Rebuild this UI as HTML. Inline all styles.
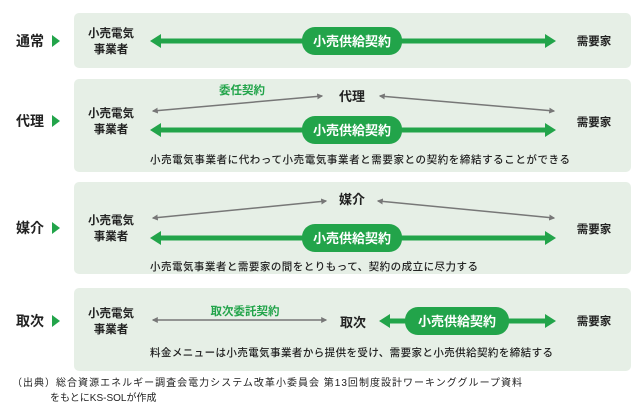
<!DOCTYPE html>
<html><head><meta charset="utf-8"><style>
html,body{margin:0;padding:0;background:#fff;width:640px;height:406px;overflow:hidden}
svg{display:block}
text{font-family:"Liberation Sans","Noto Sans CJK JP",sans-serif;fill:#222}
.g{fill:#22a44a}
.w{fill:#fff}
</style></head><body>
<svg width="640" height="406" viewBox="0 0 640 406" xmlns="http://www.w3.org/2000/svg">
<defs>
<marker id="ga" viewBox="0 0 10 10" refX="8" refY="5" markerWidth="4" markerHeight="4" orient="auto-start-reverse"><path d="M0,0 L10,5 L0,10 z" fill="#777"/></marker>
</defs>
<g fill="#e6efe6">
<rect x="74" y="13" width="557" height="55" rx="5"/>
<rect x="74" y="79" width="557" height="93" rx="5"/>
<rect x="74" y="182" width="557" height="92" rx="5"/>
<rect x="74" y="288" width="557" height="83" rx="5"/>
</g>
<g font-size="14" font-weight="bold">
<text x="16" y="46">通常</text>
<text x="16" y="126">代理</text>
<text x="16" y="233">媒介</text>
<text x="16" y="326">取次</text>
</g>
<g fill="#22a44a">
<path d="M52,35 L60,41 L52,47z"/>
<path d="M52,115 L60,121 L52,127z"/>
<path d="M52,222 L60,228 L52,234z"/>
<path d="M52,315 L60,321 L52,327z"/>
</g>
<g font-size="11.5" text-anchor="middle" font-weight="bold" style="font-weight:600">
<text x="111" y="37">小売電気</text><text x="111" y="53">事業者</text>
<text x="111" y="117">小売電気</text><text x="111" y="133">事業者</text>
<text x="111" y="224">小売電気</text><text x="111" y="240">事業者</text>
<text x="111" y="317">小売電気</text><text x="111" y="333">事業者</text>
<text x="594" y="45">需要家</text>
<text x="594" y="126">需要家</text>
<text x="594" y="233">需要家</text>
<text x="594" y="325">需要家</text>
</g>
<!-- green arrows -->
<g stroke="#22a44a" stroke-width="5" fill="none">
<line x1="158" y1="41" x2="548" y2="41"/>
<line x1="158" y1="130" x2="548" y2="130"/>
<line x1="158" y1="238" x2="548" y2="238"/>
<line x1="386" y1="321" x2="548" y2="321"/>
</g>
<g fill="#22a44a">
<path d="M150,41 L161,34 L161,48z"/><path d="M556,41 L545,34 L545,48z"/>
<path d="M150,130 L161,123 L161,137z"/><path d="M556,130 L545,123 L545,137z"/>
<path d="M150,238 L161,231 L161,245z"/><path d="M556,238 L545,231 L545,245z"/>
<path d="M379,321 L390,314 L390,328z"/><path d="M556,321 L545,314 L545,328z"/>
</g>
<g class="g">
<rect x="302" y="27" width="100" height="28" rx="13"/>
<rect x="302" y="116" width="100" height="28" rx="13"/>
<rect x="302" y="224" width="100" height="28" rx="13"/>
<rect x="405" y="307" width="104" height="28" rx="13"/>
</g>
<g font-size="13" text-anchor="middle" font-weight="bold" style="font-weight:600">
<text x="352" y="46" class="w">小売供給契約</text>
<text x="352" y="135" class="w">小売供給契約</text>
<text x="352" y="243" class="w">小売供給契約</text>
<text x="457" y="326" class="w">小売供給契約</text>
</g>
<!-- gray arrows -->
<g stroke="#777" stroke-width="1.5" fill="none">
<line x1="153" y1="111" x2="322" y2="96" marker-start="url(#ga)" marker-end="url(#ga)"/>
<line x1="380" y1="96" x2="554" y2="111" marker-start="url(#ga)" marker-end="url(#ga)"/>
<line x1="153" y1="218" x2="326" y2="201" marker-start="url(#ga)" marker-end="url(#ga)"/>
<line x1="378" y1="201" x2="554" y2="218" marker-start="url(#ga)" marker-end="url(#ga)"/>
<line x1="153" y1="320" x2="326" y2="320" marker-start="url(#ga)" marker-end="url(#ga)"/>
</g>
<g font-size="13" font-weight="bold" text-anchor="middle">
<text x="352" y="101">代理</text>
<text x="352" y="204">媒介</text>
<text x="353" y="327">取次</text>
</g>
<g font-size="11.5" text-anchor="middle" font-weight="bold">
<text x="242" y="94" style="fill:#22a44a">委任契約</text>
<text x="245" y="315" style="fill:#22a44a">取次委託契約</text>
</g>
<g font-size="10.5" style="font-weight:500">
<text x="150" y="163" textLength="420">小売電気事業者に代わって小売電気事業者と需要家との契約を締結することができる</text>
<text x="150" y="270" textLength="328">小売電気事業者と需要家の間をとりもって、契約の成立に尽力する</text>
<text x="150" y="356" textLength="403">料金メニューは小売電気事業者から提供を受け、需要家と小売供給契約を締結する</text>
</g>
<g font-size="10">
<text x="12" y="386" textLength="510">（出典）総合資源エネルギー調査会電力システム改革小委員会 第13回制度設計ワーキンググループ資料</text>
<text x="50" y="401">をもとにKS-SOLが作成</text>
</g>
</svg>
</body></html>
